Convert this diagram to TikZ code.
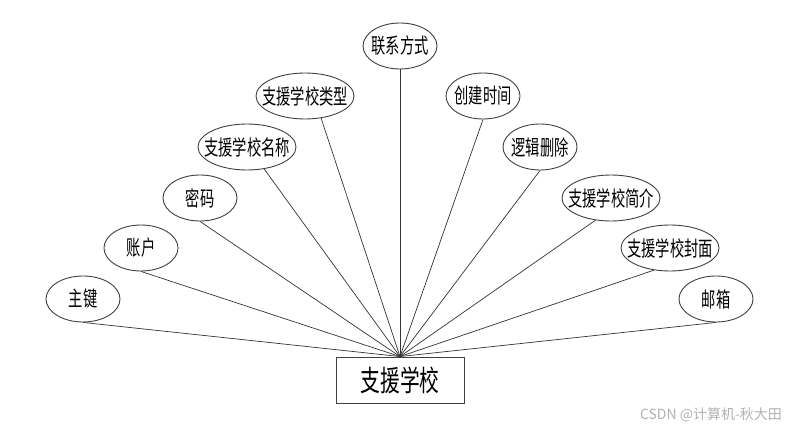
\documentclass[tikz,border=0pt]{standalone}
\usepackage{fontspec}
\newfontfamily\cjk[FakeStretch=0.68]{Noto Sans CJK SC}
\newfontfamily\cjkw{Noto Sans CJK SC}
\usetikzlibrary{shapes.geometric}
\begin{document}
\begin{tikzpicture}[x=1pt,y=-1pt,
  attr/.style={ellipse, draw=black!75, line width=0.9pt, inner sep=0pt,
    minimum width=74pt, minimum height=46pt},
  wide/.style={minimum width=98pt},
  lab/.style={font=\cjk\fontsize{21}{21}\selectfont, inner sep=0pt},
  ent/.style={draw=black!75, line width=0.9pt, minimum width=128pt, minimum height=46pt,
    inner sep=0pt, font=\cjk\fontsize{29}{29}\selectfont},
  conn/.style={draw=black!80, line width=0.7pt}]
\useasboundingbox (0,0) rectangle (800,430);
\fill[white] (0,0) rectangle (800,430);

\node[ent] (e) at (400,380) {支援学校};

\node[attr, label={[lab]center:主键}] (a1) at (83,299) {};
\node[attr, label={[lab]center:账户}] (a2) at (141,248) {};
\node[attr, label={[lab]center:密码}] (a3) at (200,198) {};
\node[attr, wide, label={[lab]center:支援学校名称}] (a4) at (247,147) {};
\node[attr, wide, label={[lab]center:支援学校类型}] (a5) at (305,96) {};
\node[attr, label={[lab]center:联系方式}] (a6) at (400,46) {};
\node[attr, label={[lab]center:创建时间}] (a7) at (483,96) {};
\node[attr, label={[lab]center:逻辑删除}] (a8) at (540,147) {};
\node[attr, wide, label={[lab]center:支援学校简介}] (a9) at (611,198) {};
\node[attr, wide, label={[lab]center:支援学校封面}] (a10) at (670,248) {};
\node[attr, label={[lab]center:邮箱}] (a11) at (716,299) {};

\draw[conn] (a1.south) -- (e.north);
\draw[conn] (a2.south) -- (e.north);
\draw[conn] (a3.south) -- (e.north);
\draw[conn] (a4.-52) -- (e.north);
\draw[conn] (a5.-54) -- (e.north);
\draw[conn] (a6.south) -- (e.north);
\draw[conn] (a7.south) -- (e.north);
\draw[conn] (a8.south) -- (e.north);
\draw[conn] (a9.-125) -- (e.north);
\draw[conn] (a10.-126) -- (e.north);
\draw[conn] (a11.south) -- (e.north);

\node[font=\cjkw\fontsize{14}{14}\selectfont, text=black!30, inner sep=0pt] (wm) at (711,415) {CSDN @计算机-秋大田};
\end{tikzpicture}
\end{document}
